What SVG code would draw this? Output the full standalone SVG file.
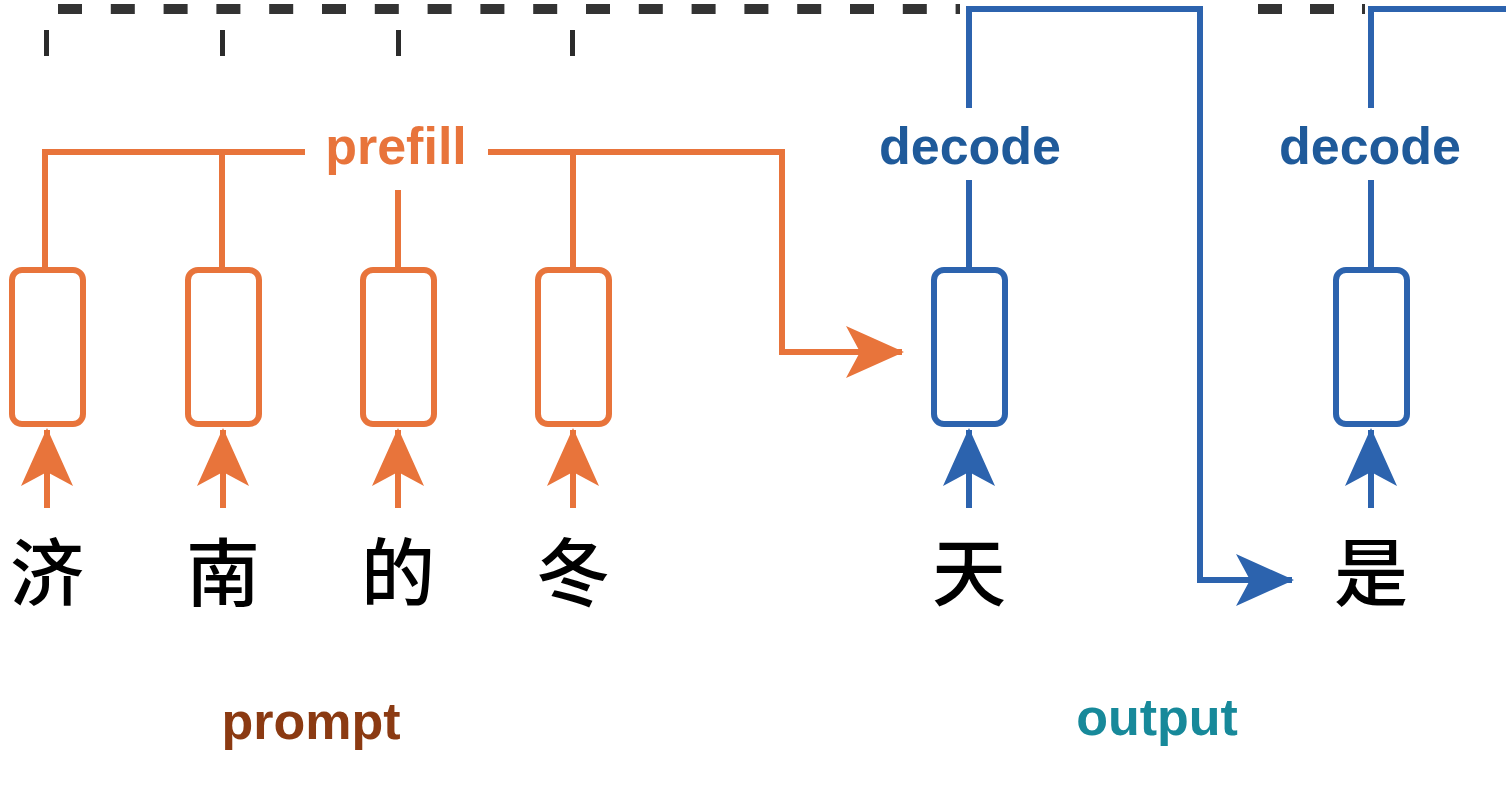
<svg xmlns="http://www.w3.org/2000/svg" width="1506" height="794" viewBox="0 0 1506 794">
<style>
.o{fill:none;stroke:#e8743b;stroke-width:6}
.b{fill:none;stroke:#2c63ae;stroke-width:6}
.bo{fill:#fff;stroke:#e8743b;stroke-width:6}
.bb{fill:#fff;stroke:#2c63ae;stroke-width:6}
.d{fill:#2b2b2b}
.ch{font-family:"Noto Sans CJK SC",sans-serif;font-size:74px;font-weight:500;fill:#000;text-anchor:middle}
.lb{font-family:"Liberation Sans",Arial,sans-serif;font-weight:bold;font-size:52px;text-anchor:middle}
</style>
<defs>
<marker id="ao" viewBox="0 0 58 52" refX="56" refY="26" markerWidth="58" markerHeight="52" markerUnits="userSpaceOnUse" orient="auto"><path d="M0,0 L58,26 L0,52 L14,26 Z" fill="#e8743b"/></marker>
<marker id="ab" viewBox="0 0 58 52" refX="56" refY="26" markerWidth="58" markerHeight="52" markerUnits="userSpaceOnUse" orient="auto"><path d="M0,0 L58,26 L0,52 L14,26 Z" fill="#2c63ae"/></marker>
</defs>
<rect width="1506" height="794" fill="#fff"/>
<g id="dashes">
<line x1="58" y1="9" x2="960" y2="9" stroke="#333" stroke-width="10" stroke-dasharray="24 28.8"/>
<line x1="1258" y1="9" x2="1365" y2="9" stroke="#333" stroke-width="10" stroke-dasharray="24 28"/>
<rect class="d" x="44" y="30" width="5" height="26"/>
<rect class="d" x="220" y="30" width="5" height="26"/>
<rect class="d" x="396" y="30" width="5" height="26"/>
<rect class="d" x="570" y="30" width="5" height="26"/>
</g>
<g id="connectors">
<path class="o" d="M45,270 V152 H305 M488,152 H782 V352 H902" marker-end="url(#ao)"/>
<path class="o" d="M222,152 V270 M573,152 V270 M398,190 V270"/>
<path class="o" d="M47,508 V430" marker-end="url(#ao)"/>
<path class="o" d="M223,508 V430" marker-end="url(#ao)"/>
<path class="o" d="M398,508 V430" marker-end="url(#ao)"/>
<path class="o" d="M573,508 V430" marker-end="url(#ao)"/>
<path class="b" d="M969,508 V430" marker-end="url(#ab)"/>
<path class="b" d="M1371,508 V430" marker-end="url(#ab)"/>
<path class="b" d="M969,108 V9 H1200 V580 H1292" marker-end="url(#ab)"/>
<path class="b" d="M1371,108 V9 H1506"/>
<path class="b" d="M969,180 V270 M1371,180 V270"/>
</g>
<g id="n1"><rect class="bo" x="12" y="270" width="71" height="154" rx="10"/><text class="ch" x="47" y="600">济</text></g>
<g id="n2"><rect class="bo" x="188" y="270" width="71" height="154" rx="10"/><text class="ch" x="223" y="600">南</text></g>
<g id="n3"><rect class="bo" x="363" y="270" width="71" height="154" rx="10"/><text class="ch" x="398" y="600">的</text></g>
<g id="n4"><rect class="bo" x="538" y="270" width="71" height="154" rx="10"/><text class="ch" x="573" y="600">冬</text></g>
<g id="n5"><rect class="bb" x="934" y="270" width="71" height="154" rx="10"/><text class="ch" x="969" y="600">天</text></g>
<g id="n6"><rect class="bb" x="1336" y="270" width="71" height="154" rx="10"/><text class="ch" x="1371" y="600">是</text></g>
<g id="labels">
<text class="lb" x="396" y="164" fill="#e8743b">prefill</text>
<text class="lb" x="970" y="164" fill="#1f5a9a">decode</text>
<text class="lb" x="1370" y="164" fill="#1f5a9a">decode</text>
<text class="lb" x="311" y="739" fill="#8b3a12">prompt</text>
<text class="lb" x="1157" y="735" fill="#17899a">output</text>
</g>
</svg>
